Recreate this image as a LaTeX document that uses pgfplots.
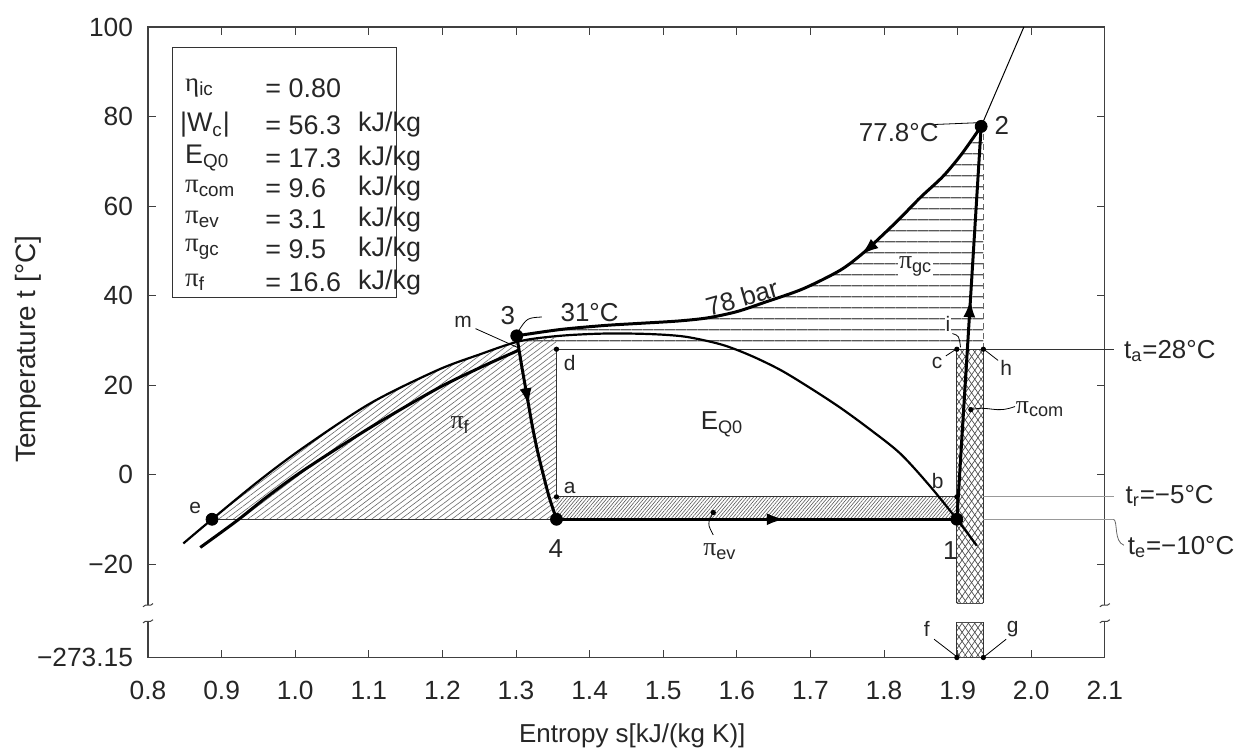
\documentclass[border=0pt]{standalone}
\usepackage{fontspec}
\setmainfont{Liberation Sans}
\newfontfamily\grk{Liberation Serif}
\usepackage{pgfplots}
\pgfplotsset{compat=1.18}
\usetikzlibrary{patterns.meta,arrows.meta,calc,decorations.markings}
\newcommand{\gpi}{{\grk π}}
\newcommand{\sub}[1]{\textsubscript{#1}}
\newcommand{\fs}{\fontsize{13}{15}\selectfont}
\newcommand{\fsl}{\fontsize{13.5}{15}\selectfont}
\newcommand{\fsm}{\fontsize{10.5}{12}\selectfont}
\tikzset{midarrow/.style={postaction={decorate}, decoration={markings, mark=at position #1 with {\arrow{Latex[length=9pt,width=6pt]}}}}}
\begin{document}
\begin{tikzpicture}
\begin{axis}[
  scale only axis, width=478bp, height=315bp,
  xmin=0.8, xmax=2.1, ymin=-40.9, ymax=100,
  xtick={0.8,0.9,1.0,1.1,1.2,1.3,1.4,1.5,1.6,1.7,1.8,1.9,2.0,2.1},
  xticklabels={0.8,0.9,1.0,1.1,1.2,1.3,1.4,1.5,1.6,1.7,1.8,1.9,2.0,2.1},
  ytick={-40.9,-20,0,20,40,60,80,100},
  yticklabels={−273.15,−20,0,20,40,60,80,100},
  tick align=inside, major tick length=4pt,
  tick style={line width=0.5pt, black!75},
  axis line style={line width=0.6pt, black!75},
  ticklabel style={font=\fontsize{13.2}{15}\selectfont, text=black!85},
  xticklabel style={yshift=-8.5pt},
  yticklabel style={xshift=-4pt},
  clip=false,
]
% ---------- hatched areas ----------
\addplot[draw=none, pattern={Lines[angle=0,distance=5.4pt,line width=0.55pt]}, pattern color=black!65]
 coordinates {(1.285,28) (1.301,31) (1.36,32.4) (1.42,33.3) (1.47,33.8) (1.52,34.3) (1.56,35.0) (1.60,36.4) (1.64,38.6) (1.69,41.5) (1.74,45.6) (1.771,49.4) (1.80,53.8) (1.822,57.3) (1.85,62.0) (1.88,66.6) (1.905,71.5) (1.932,77.8) (1.935,77.8) (1.935,28)} -- cycle;
\addplot[draw=none, pattern={Lines[angle=37,distance=2.2pt,line width=0.3pt]}, pattern color=black!60]
 coordinates {(0.887,-10) (0.95,-1.5) (1.011,6.0) (1.102,15.9) (1.193,23.3) (1.25,26.8) (1.305,29.8) (1.355,31.0) (1.355,-10)} -- cycle;
\addplot[draw=none, pattern={Lines[angle=50,distance=1.3pt,line width=0.3pt]}, pattern color=black!65]
 coordinates {(1.355,-10) (1.899,-10) (1.899,-5) (1.355,-5)} -- cycle;
\addplot[draw=none, pattern={Lines[angle=55,distance=2.6pt,line width=0.35pt]}, pattern color=black!70]
 coordinates {(1.899,28) (1.935,28) (1.935,-28.8) (1.899,-28.8)} -- cycle;
\addplot[draw=none, pattern={Lines[angle=-55,distance=2.6pt,line width=0.35pt]}, pattern color=black!70]
 coordinates {(1.899,28) (1.935,28) (1.935,-28.8) (1.899,-28.8)} -- cycle;
\addplot[draw=none, pattern={Lines[angle=55,distance=2.6pt,line width=0.35pt]}, pattern color=black!70]
 coordinates {(1.899,-33) (1.935,-33) (1.935,-40.9) (1.899,-40.9)} -- cycle;
\addplot[draw=none, pattern={Lines[angle=-55,distance=2.6pt,line width=0.35pt]}, pattern color=black!70]
 coordinates {(1.899,-33) (1.935,-33) (1.935,-40.9) (1.899,-40.9)} -- cycle;

% ---------- thin lines ----------
\addplot[line width=0.5pt, black!80] coordinates {(0.887,-10) (1.355,-10)};
\addplot[line width=0.5pt, black!80] coordinates {(1.355,-5) (1.355,28) (2.112,28)};
\addplot[line width=0.5pt, black!80] coordinates {(1.355,-5) (1.899,-5)};
\addplot[line width=0.45pt, black!80] coordinates {(1.899,28) (1.899,-28.8)};
\addplot[line width=0.45pt, black!80] coordinates {(1.935,28) (1.935,-28.8)};
\addplot[line width=0.45pt, black!80] coordinates {(1.899,-33) (1.899,-40.9)};
\addplot[line width=0.45pt, black!80] coordinates {(1.935,-33) (1.935,-40.9)};
\addplot[line width=0.4pt, black!70] coordinates {(1.899,-28.8) (1.935,-28.8)};
\addplot[line width=0.4pt, black!70] coordinates {(1.899,-33) (1.935,-33)};
\addplot[line width=0.45pt, black!60, densely dashed] coordinates {(1.935,28) (1.935,77.8)};
\addplot[line width=0.5pt, black!40] coordinates {(1.935,-5) (2.112,-5)};
\addplot[line width=0.5pt, black!40] coordinates {(1.935,-10) (2.112,-10)};

% ---------- saturation dome ----------
\addplot[line width=1.1pt, smooth, black] coordinates {(0.848,-15.4) (0.887,-10) (0.95,-1.5) (1.011,6.0) (1.102,15.9) (1.193,23.3) (1.25,26.8) (1.305,29.8) (1.36,31.0) (1.42,31.5) (1.48,31.4) (1.53,30.8) (1.58,29.0) (1.62,26.5) (1.66,23.3) (1.70,19.3) (1.74,15.0) (1.78,10.2) (1.822,4.7) (1.862,-2.5) (1.899,-10) (1.926,-15.9)};

% ---------- liquid-side thick line ----------
\addplot[line width=1.5pt, smooth, black] coordinates {(0.871,-16.3) (0.921,-10.3) (0.96,-5.2) (1.011,0.9) (1.102,10.5) (1.193,19.2) (1.25,23.8) (1.282,26.2) (1.304,27.8)};

% ---------- 78 bar isobar ----------
\addplot[line width=0.5pt, black] coordinates {(1.932,77.8) (1.96,88.5) (1.99,100)};
\addplot[line width=1.5pt, smooth, black, midarrow=0.33] coordinates {(1.932,77.8) (1.905,71.5) (1.88,66.6) (1.85,62.0) (1.822,57.3) (1.80,53.8) (1.771,49.4) (1.74,45.6) (1.69,41.5) (1.64,38.6) (1.60,36.4) (1.56,35.0) (1.52,34.3) (1.47,33.8) (1.42,33.3) (1.36,32.4) (1.301,31)};

% ---------- cycle ----------
\addplot[line width=1.5pt, black, midarrow=0.56] coordinates {(1.899,-10) (1.932,77.8)};
\addplot[line width=1.5pt, smooth, black, midarrow=0.38] coordinates {(1.301,31) (1.308,24) (1.315,17.5) (1.322,11) (1.329,5.4) (1.337,0) (1.345,-5) (1.355,-10)};
\addplot[line width=1.5pt, black, midarrow=0.57] coordinates {(1.355,-10) (1.899,-10)};

% ---------- points ----------
\addplot[only marks, mark=*, mark size=3pt, black] coordinates {(1.899,-10) (1.932,77.8) (1.301,31) (1.355,-10) (0.887,-10)};
\addplot[only marks, mark=*, mark size=1.1pt, black] coordinates {(1.355,-5) (1.899,-5) (1.899,28) (1.355,28) (1.935,28) (1.568,-8.5) (1.918,14.5) (1.899,-40.9) (1.935,-40.9)};

% ---------- leaders ----------
\draw[line width=0.4pt] (axis cs:1.866,78.2) -- (axis cs:1.925,78.6);
\draw[line width=0.4pt] (axis cs:1.335,35.2) .. controls (axis cs:1.315,35) .. (axis cs:1.303,32);
\draw[line width=0.4pt] (axis cs:1.245,32.6) -- (axis cs:1.302,28.4);
\draw[line width=0.4pt] (axis cs:1.568,-8.5) .. controls (axis cs:1.560,-11) .. (axis cs:1.568,-13.5);
\draw[line width=0.4pt] (axis cs:1.918,14.5) .. controls (axis cs:1.945,15.5) and (axis cs:1.950,13.5) .. (axis cs:1.978,15.2);
\draw[line width=0.4pt] (axis cs:1.884,26.5) -- (axis cs:1.898,28);
\draw[line width=0.4pt] (axis cs:1.893,31.5) .. controls (axis cs:1.902,31) .. (axis cs:1.904,28.4);
\draw[line width=0.4pt] (axis cs:1.937,27.8) -- (axis cs:1.955,25.5);
\draw[line width=0.4pt] (axis cs:1.868,-36.8) -- (axis cs:1.898,-40.6);
\draw[line width=0.4pt] (axis cs:1.966,-36.8) -- (axis cs:1.937,-40.6);
\draw[line width=0.4pt, black!60] (axis cs:2.112,-10) .. controls (axis cs:2.118,-10.5) and (axis cs:2.112,-15) .. (axis cs:2.126,-15.8);

% ---------- axis breaks ----------
\fill[white] (axis cs:0.792,-29.2) rectangle (axis cs:0.808,-32.8);
\fill[white] (axis cs:2.092,-29.2) rectangle (axis cs:2.108,-32.8);
\draw[line width=0.5pt, black!75] ($(axis cs:0.8,-29.2)+(-2.5pt,-0.8pt)$) .. controls +(1.5pt,2pt) and +(-1.5pt,-2pt) .. ($(axis cs:0.8,-29.2)+(2.5pt,0.8pt)$);
\draw[line width=0.5pt, black!75] ($(axis cs:0.8,-32.8)+(-2.5pt,-0.8pt)$) .. controls +(1.5pt,2pt) and +(-1.5pt,-2pt) .. ($(axis cs:0.8,-32.8)+(2.5pt,0.8pt)$);
\draw[line width=0.5pt, black!75] ($(axis cs:2.1,-29.2)+(-2.5pt,-0.8pt)$) .. controls +(1.5pt,2pt) and +(-1.5pt,-2pt) .. ($(axis cs:2.1,-29.2)+(2.5pt,0.8pt)$);
\draw[line width=0.5pt, black!75] ($(axis cs:2.1,-32.8)+(-2.5pt,-0.8pt)$) .. controls +(1.5pt,2pt) and +(-1.5pt,-2pt) .. ($(axis cs:2.1,-32.8)+(2.5pt,0.8pt)$);

% ---------- legend box ----------
\draw[line width=0.6pt, black!80] (axis cs:0.833,95.5) rectangle (axis cs:1.138,39.6);
\begin{scope}[every node/.style={anchor=west, inner sep=0pt, font=\fsl, text=black!85}]
\node at (axis cs:0.850,86.4) {{\grk η}\sub{ic}};
\node at (axis cs:0.843,78.1) {|W\sub{c}|};
\node at (axis cs:0.850,70.7) {E\sub{Q0}};
\node at (axis cs:0.850,64.0) {\gpi\sub{com}};
\node at (axis cs:0.850,57.0) {\gpi\sub{ev}};
\node at (axis cs:0.850,50.3) {\gpi\sub{gc}};
\node at (axis cs:0.850,43.0) {\gpi\sub{f}};
\node at (axis cs:0.959,86.4) {= 0.80};
\node at (axis cs:0.959,78.1) {= 56.3};
\node at (axis cs:0.959,70.7) {= 17.3};
\node at (axis cs:0.959,64.0) {= 9.6};
\node at (axis cs:0.959,57.0) {= 3.1};
\node at (axis cs:0.959,50.3) {= 9.5};
\node at (axis cs:0.959,43.0) {= 16.6};
\node at (axis cs:1.085,78.1) {kJ/kg};
\node at (axis cs:1.085,70.7) {kJ/kg};
\node at (axis cs:1.085,64.0) {kJ/kg};
\node at (axis cs:1.085,57.0) {kJ/kg};
\node at (axis cs:1.085,50.3) {kJ/kg};
\node at (axis cs:1.085,43.0) {kJ/kg};
\end{scope}

% ---------- labels ----------
\begin{scope}[every node/.style={font=\fs, text=black!85, inner sep=1pt}]
\node at (axis cs:1.890,-17) {1};
\node at (axis cs:1.960,78) {2};
\node at (axis cs:1.289,35.6) {3};
\node at (axis cs:1.354,-16.6) {4};
\node at (axis cs:1.820,76.5) {77.8°C};
\node at (axis cs:1.40,36.2) {31°C};
\node[rotate=16] at (axis cs:1.607,39.6) {78 bar};
\node[fill=white, inner sep=0.5pt] at (axis cs:1.843,46.5) {\gpi\sub{gc}};
\node at (axis cs:1.224,11) {\gpi\sub{f}};
\node at (axis cs:1.580,11.2) {E\sub{Q0}};
\node at (axis cs:1.577,-17.2) {\gpi\sub{ev}};
\node[anchor=west] at (axis cs:1.976,14.6) {\gpi\sub{com}};
\node[anchor=west] at (axis cs:2.123,27.6) {t\sub{a}=28°C};
\node[anchor=west] at (axis cs:2.125,-4.8) {t\sub{r}=−5°C};
\node[anchor=west] at (axis cs:2.128,-16.2) {t\sub{e}=−10°C};
\end{scope}
\begin{scope}[every node/.style={font=\fsm, text=black!85, inner sep=1pt}]
\node at (axis cs:0.864,-7.4) {e};
\node at (axis cs:1.228,34.2) {m};
\node at (axis cs:1.373,-2.9) {a};
\node at (axis cs:1.873,-1.5) {b};
\node at (axis cs:1.872,25) {c};
\node at (axis cs:1.373,25) {d};
\node at (axis cs:1.966,23.8) {h};
\node[fill=white, inner sep=0.5pt] at (axis cs:1.887,33.6) {i};
\node at (axis cs:1.858,-34.6) {f};
\node at (axis cs:1.975,-34.6) {g};
\end{scope}
\node[font=\fs, text=black!85] at (axis cs:1.458,-58.4) {Entropy s[kJ/(kg K)]};
\node[font=\fontsize{14}{16}\selectfont, text=black!85, rotate=90] at (axis cs:0.638,28) {Temperature t [°C]};

\coordinate (BBll) at (axis cs:0.5989,-61.52);
\coordinate (BBur) at (axis cs:2.3068,106.04);
\end{axis}
\pgfresetboundingbox
\path[use as bounding box] (BBll) rectangle (BBur);
\end{tikzpicture}
\end{document}
